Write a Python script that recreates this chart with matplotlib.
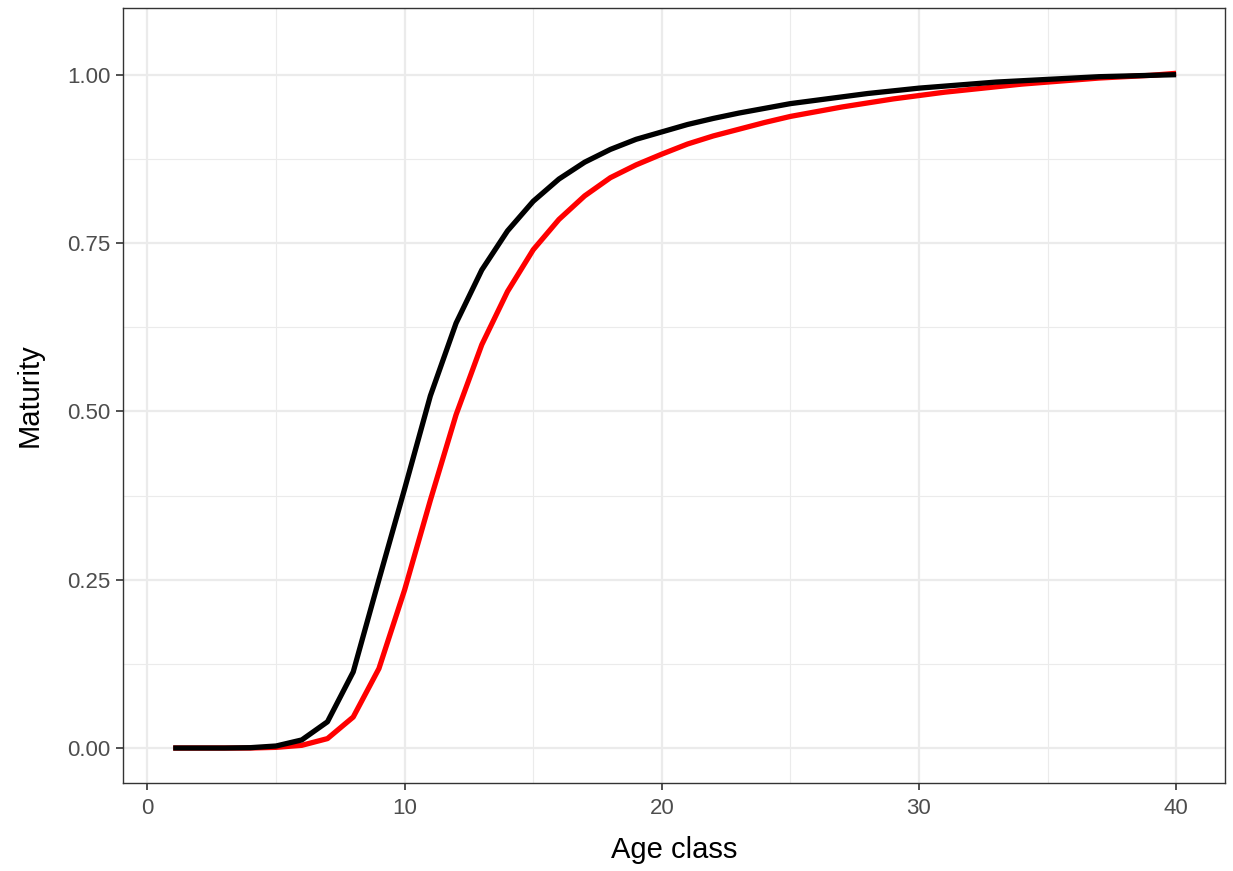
import numpy as np
import matplotlib
matplotlib.use("Agg")
import matplotlib.pyplot as plt
from matplotlib.ticker import MultipleLocator

# maturity at age, two curves
age = list(range(1, 41))
mat_red = [0.0, 0.0, 0.0, 0.0, 0.001, 0.004, 0.014, 0.046, 0.118, 0.235,
           0.368, 0.495, 0.599, 0.678, 0.740, 0.785, 0.820, 0.847, 0.866, 0.882,
           0.897, 0.909, 0.919, 0.929, 0.938, 0.945, 0.952, 0.958, 0.964, 0.969,
           0.974, 0.978, 0.982, 0.986, 0.989, 0.992, 0.995, 0.997, 0.999, 1.002]
mat_black = [0.0, 0.0, 0.0, 0.0005, 0.003, 0.012, 0.039, 0.113, 0.250, 0.385,
             0.523, 0.631, 0.710, 0.768, 0.812, 0.845, 0.870, 0.889, 0.904, 0.915,
             0.926, 0.935, 0.943, 0.950, 0.957, 0.962, 0.967, 0.972, 0.976, 0.980,
             0.983, 0.986, 0.989, 0.991, 0.993, 0.995, 0.997, 0.998, 0.999, 1.0]

plt.rcParams['font.family'] = ['Liberation Sans', 'DejaVu Sans']

fig = plt.figure(figsize=(12.33, 8.71), dpi=100)
ax = fig.add_axes([0.0998, 0.101, 0.8937, 0.8898])

ax.plot(age, mat_red, color='#FF0000', linewidth=3.8, solid_capstyle='butt', zorder=3)
ax.plot(age, mat_black, color='#000000', linewidth=3.8, solid_capstyle='butt', zorder=4)

ax.set_xlim(-0.95, 41.9)
ax.set_ylim(-0.052, 1.099)

ax.xaxis.set_major_locator(MultipleLocator(10))
ax.xaxis.set_minor_locator(MultipleLocator(5))
ax.yaxis.set_major_locator(MultipleLocator(0.25))
ax.yaxis.set_minor_locator(MultipleLocator(0.125))
ax.yaxis.set_major_formatter(plt.FuncFormatter(lambda v, p: f"{v:.2f}"))

ax.grid(which='major', color='#EBEBEB', linewidth=1.6, zorder=0)
ax.grid(which='minor', color='#EBEBEB', linewidth=0.8, zorder=0)
ax.set_axisbelow(True)

for s in ax.spines.values():
    s.set_color('#333333')
    s.set_linewidth(1.0)

ax.tick_params(which='major', length=5, width=1.2, color='#333333',
               labelcolor='#4D4D4D', labelsize=16, pad=4)
ax.tick_params(axis='x', which='major', pad=6)
ax.tick_params(which='minor', length=0)

ax.set_xlabel('Age class', fontsize=21, color='black', labelpad=12)
ax.set_ylabel('Maturity', fontsize=21, color='black', labelpad=17)

fig.savefig('out.png', dpi=100, facecolor='white')
